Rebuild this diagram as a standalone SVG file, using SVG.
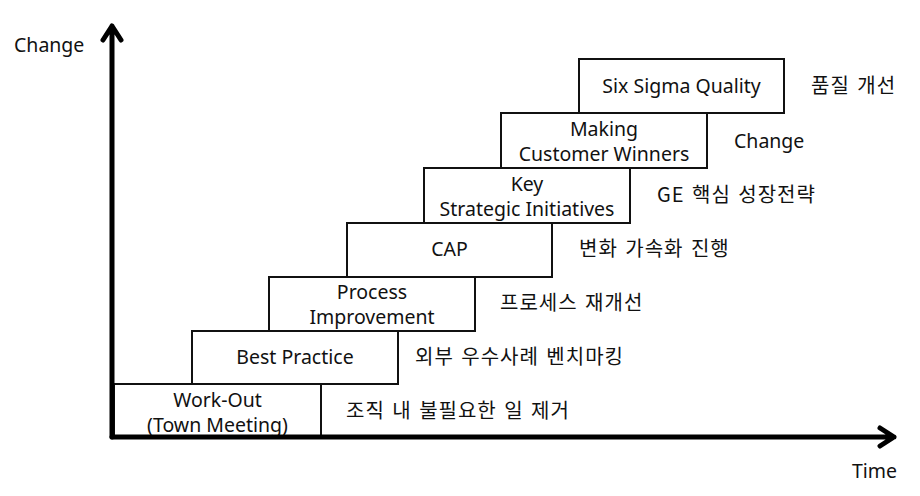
<svg xmlns="http://www.w3.org/2000/svg" width="920" height="496" viewBox="0 0 920 496">
<style>
text{font-family:"Noto Sans","Noto Sans CJK KR",sans-serif;font-size:19.5px;fill:#111}
text.k{font-family:"Noto Sans CJK KR","Noto Sans",sans-serif;font-size:20px;letter-spacing:1px;word-spacing:2px}
.b rect{fill:#fff;stroke:#111;stroke-width:2}
.c{text-anchor:middle}
.ax{stroke:#000;stroke-width:5;fill:none;stroke-linecap:round;stroke-linejoin:round}
</style>
<rect width="920" height="496" fill="#fff"/>
<g id="step1" class="b"><rect x="114" y="384" width="207" height="53"/><text class="c" x="217.5" y="407">Work-Out</text><text class="c" x="217.5" y="431.5">(Town Meeting)</text><text class="k" x="346" y="418">조직 내 불필요한 일 제거</text></g>
<g id="step2" class="b"><rect x="192" y="331" width="206" height="53"/><text class="c" x="295" y="364">Best Practice</text><text class="k" x="415" y="364">외부 우수사례 벤치마킹</text></g>
<g id="step3" class="b"><rect x="269" y="277" width="206" height="54"/><text class="c" x="372" y="299">Process</text><text class="c" x="372" y="323.5">Improvement</text><text class="k" x="500" y="310">프로세스 재개선</text></g>
<g id="step4" class="b"><rect x="347" y="223" width="205" height="54"/><text class="c" x="449.5" y="256">CAP</text><text class="k" x="579" y="256">변화 가속화 진행</text></g>
<g id="step5" class="b"><rect x="424" y="168" width="206" height="55"/><text class="c" x="527" y="191">Key</text><text class="c" x="527" y="215.5">Strategic Initiatives</text><text class="k" x="657" y="202">GE 핵심 성장전략</text></g>
<g id="step6" class="b"><rect x="501" y="113" width="206" height="55"/><text class="c" x="604" y="136">Making</text><text class="c" x="604" y="160.5">Customer Winners</text><text x="734" y="148">Change</text></g>
<g id="step7" class="b"><rect x="579" y="59" width="205" height="54"/><text class="c" x="681.5" y="93">Six Sigma Quality</text><text class="k" x="811" y="93">품질 개선</text></g>
<g id="axes">
<path class="ax" d="M112 437 V26 M103 40 L112 26 L121 40"/>
<path class="ax" d="M112 437 H894 M880 428 L894 437 L880 446"/>
<text x="14" y="52">Change</text>
<text x="852" y="478">Time</text>
</g>
</svg>
